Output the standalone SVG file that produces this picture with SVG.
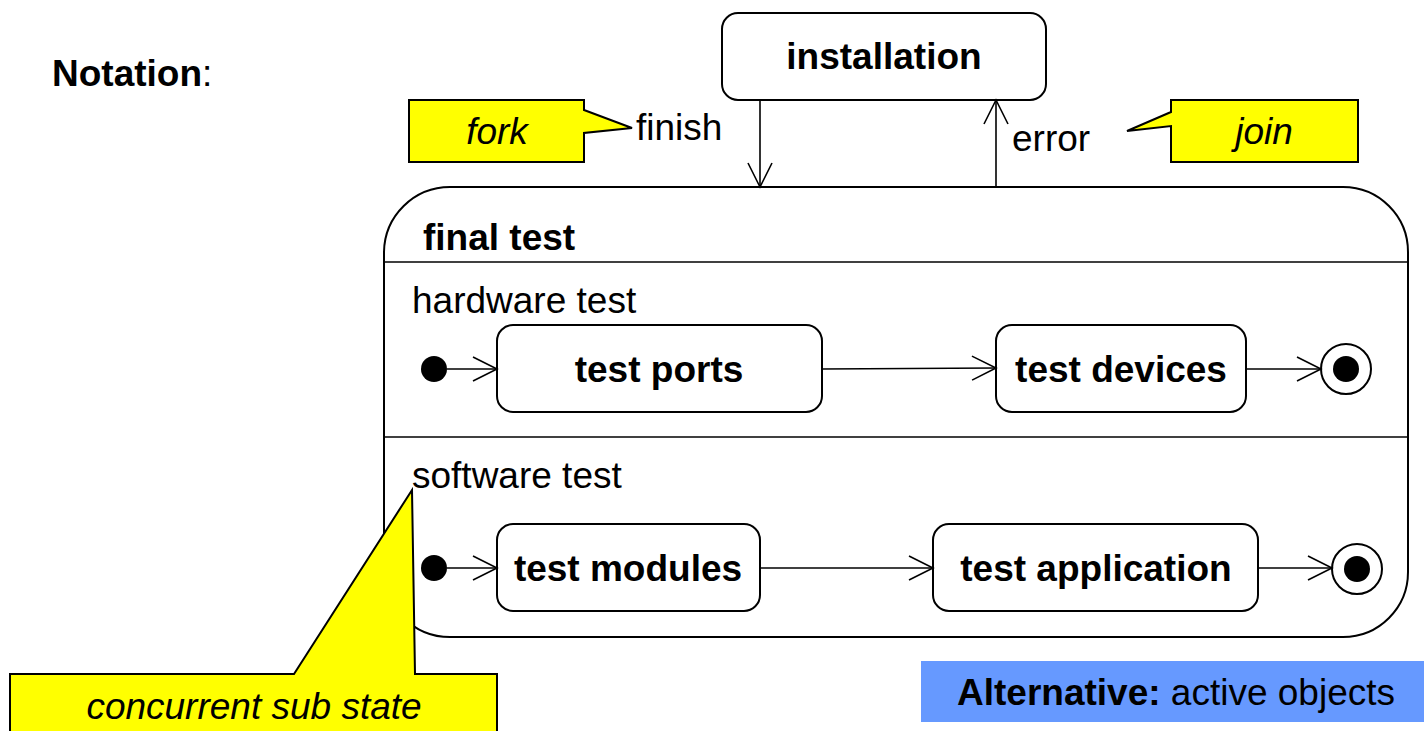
<svg xmlns="http://www.w3.org/2000/svg" width="1424" height="731" viewBox="0 0 1424 731">
<style>
text{font-family:"Liberation Sans",Arial,sans-serif;font-size:37px;fill:#000}
.b{font-weight:bold}
.i{font-style:italic}
.st{fill:#fff;stroke:#000;stroke-width:2}
.note{fill:#ffff00;stroke:#000;stroke-width:2}
.ln{fill:none;stroke:#000;stroke-width:1.6}
</style>
<defs>
<marker id="open" viewBox="0 0 30 30" refX="26" refY="15" markerWidth="30" markerHeight="30" markerUnits="userSpaceOnUse" orient="auto">
<path d="M2,3 L26,15 L2,27" fill="none" stroke="#000" stroke-width="1.6"/>
</marker>
</defs>
<text x="52" y="86"><tspan class="b">Notation</tspan>:</text>
<g id="final-test">
<path class="st" d="M450,187 H1343 A65,65 0 0 1 1408,252 V572 A65,65 0 0 1 1343,637 H450 A66,66 0 0 1 384,571 V252 A66,66 0 0 1 450,187 Z"/>
<line class="ln" x1="384" y1="262" x2="1408" y2="262"/>
<line class="ln" x1="384" y1="437" x2="1408" y2="437"/>
<text class="b" x="423" y="250">final test</text>
<text x="412" y="313">hardware test</text>
<text x="412" y="488">software test</text>
</g>
<g id="installation">
<rect class="st" x="722" y="13" width="324" height="87" rx="16"/>
<text class="b" x="884" y="69" text-anchor="middle">installation</text>
</g>
<g id="test-ports">
<rect class="st" x="497" y="325" width="325" height="87" rx="16"/>
<text class="b" x="659" y="382" text-anchor="middle">test ports</text>
</g>
<g id="test-devices">
<rect class="st" x="996" y="325" width="250" height="87" rx="16"/>
<text class="b" x="1121" y="382" text-anchor="middle">test devices</text>
</g>
<g id="test-modules">
<rect class="st" x="497" y="524" width="263" height="87" rx="16"/>
<text class="b" x="628" y="581" text-anchor="middle">test modules</text>
</g>
<g id="test-application">
<rect class="st" x="933" y="524" width="325" height="87" rx="16"/>
<text class="b" x="1096" y="581" text-anchor="middle">test application</text>
</g>
<g id="init-hw"><circle cx="434" cy="369" r="13" fill="#000"/></g>
<g id="init-sw"><circle cx="434" cy="568" r="13" fill="#000"/></g>
<g id="final-hw"><circle cx="1346" cy="369" r="25" class="st"/><circle cx="1346" cy="369" r="13" fill="#000"/></g>
<g id="final-sw"><circle cx="1357" cy="569" r="25" class="st"/><circle cx="1357" cy="569" r="13" fill="#000"/></g>
<g id="connectors">
<line class="ln" x1="760" y1="100" x2="760" y2="187" marker-end="url(#open)"/>
<line class="ln" x1="996" y1="187" x2="996" y2="100" marker-end="url(#open)"/>
<line class="ln" x1="447" y1="369" x2="497" y2="369" marker-end="url(#open)"/>
<line class="ln" x1="822" y1="369" x2="996" y2="368" marker-end="url(#open)"/>
<line class="ln" x1="1246" y1="369" x2="1321" y2="369" marker-end="url(#open)"/>
<line class="ln" x1="447" y1="568" x2="497" y2="568" marker-end="url(#open)"/>
<line class="ln" x1="760" y1="568" x2="933" y2="568" marker-end="url(#open)"/>
<line class="ln" x1="1258" y1="568" x2="1332" y2="568" marker-end="url(#open)"/>
<text x="636" y="140">finish</text>
<text x="1012" y="151">error</text>
</g>
<g id="note-fork">
<path class="note" d="M409,100 H584 V110 L632,128 L584,133 V162 H409 Z"/>
<text class="i" x="497" y="144" text-anchor="middle">fork</text>
</g>
<g id="note-join">
<path class="note" d="M1171,100 H1358 V162 H1171 V126 L1127,131 L1171,112 Z"/>
<text class="i" x="1264" y="144" text-anchor="middle">join</text>
</g>
<g id="note-concurrent">
<path class="note" d="M10,674 H294 L412,490 L415,674 H497 V740 H10 Z"/>
<text class="i" x="254" y="719" text-anchor="middle">concurrent sub state</text>
</g>
<g id="alternative">
<rect x="921" y="661" width="510" height="61" fill="#6699ff"/>
<text x="1176" y="705" text-anchor="middle"><tspan class="b">Alternative:</tspan> active objects</text>
</g>
</svg>
